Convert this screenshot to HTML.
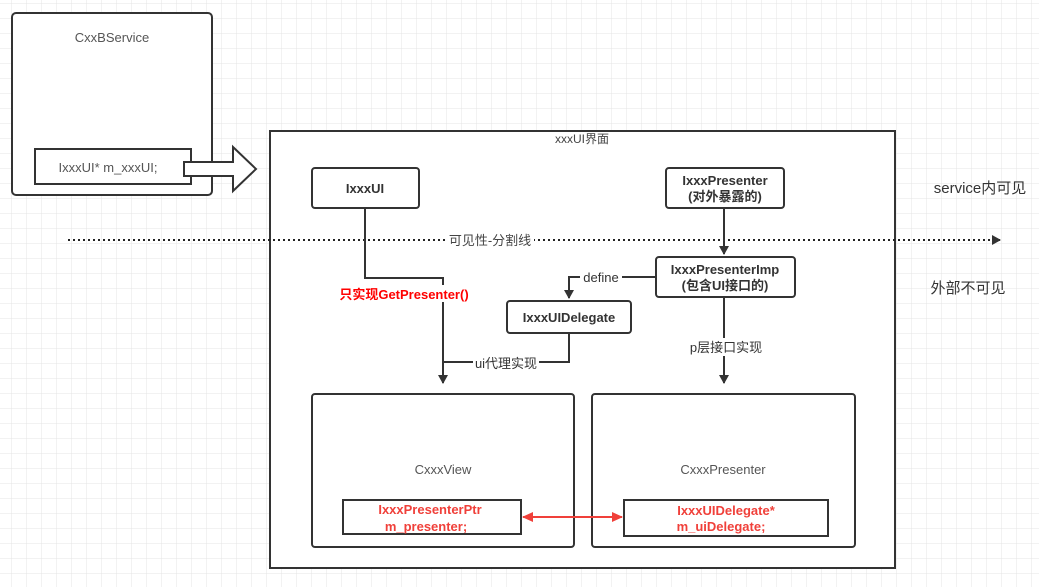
<!DOCTYPE html>
<html><head><meta charset="utf-8"><style>
html,body{margin:0;padding:0;background:#fff;}
svg{display:block;}
text{font-family:"Liberation Sans","Noto Sans CJK SC",sans-serif;}
</style></head><body>
<svg width="1039" height="587" viewBox="0 0 1039 587" xmlns="http://www.w3.org/2000/svg">
<defs>
<pattern id="g" width="15" height="15" patternUnits="userSpaceOnUse" x="12" y="4">
<path d="M15 0V15M0 15H15" stroke="#e4e4e4" stroke-width="1" fill="none"/>
</pattern>
<marker id="a" markerWidth="10" markerHeight="10" refX="8" refY="5" orient="auto" markerUnits="userSpaceOnUse"><path d="M0 0L9 5L0 10Z" fill="#333"/></marker>
<marker id="r" markerWidth="12" markerHeight="10" refX="10" refY="5" orient="auto-start-reverse" markerUnits="userSpaceOnUse"><path d="M0 0L11 5L0 10Z" fill="#f0403a"/></marker>
</defs>
<rect width="1039" height="587" fill="url(#g)"/>
<rect x="12" y="13" width="200" height="182" rx="4" fill="#fff" stroke="#333" stroke-width="2"/>
<text x="112" y="42" font-size="13" fill="#555" text-anchor="middle">CxxBService</text>
<rect x="35" y="149" width="156" height="35" fill="#fff" stroke="#333" stroke-width="2"/>
<text x="108" y="172" font-size="13" fill="#555" text-anchor="middle">IxxxUI* m_xxxUI;</text>
<path d="M184 162H233V147L256 169L233 191V176H184Z" fill="#fff" stroke="#333" stroke-width="2"/>
<rect x="270" y="131" width="625" height="437" fill="#fff" stroke="#333" stroke-width="2"/>
<text x="582" y="143" font-size="12" fill="#444" text-anchor="middle">xxxUI界面</text>
<line x1="68" y1="240" x2="1000" y2="240" stroke="#222" stroke-width="2" stroke-dasharray="2,3" marker-end="url(#a)"/>
<rect x="446" y="231" width="88" height="18" fill="#fff"/>
<text x="490" y="245" font-size="13" fill="#444" text-anchor="middle">可见性-分割线</text>
<text x="980" y="193" font-size="15" fill="#333" text-anchor="middle">service内可见</text>
<text x="968" y="293" font-size="15" fill="#333" text-anchor="middle">外部不可见</text>
<path d="M365 208V278H443V383" fill="none" stroke="#333" stroke-width="2" marker-end="url(#a)"/>
<rect x="312" y="168" width="107" height="40" rx="3" fill="#fff" stroke="#333" stroke-width="2"/>
<text x="365" y="193" font-size="13" font-weight="bold" fill="#333" text-anchor="middle">IxxxUI</text>
<rect x="335" y="285" width="140" height="17" fill="#fff"/>
<text x="404" y="299" font-size="13" font-weight="bold" fill="#f00" text-anchor="middle">只实现GetPresenter()</text>
<line x1="724" y1="208" x2="724" y2="254" stroke="#333" stroke-width="2" marker-end="url(#a)"/>
<rect x="666" y="168" width="118" height="40" rx="3" fill="#fff" stroke="#333" stroke-width="2"/>
<text x="725" y="185" font-size="13" font-weight="bold" fill="#333" text-anchor="middle">IxxxPresenter</text>
<text x="725" y="201" font-size="13" font-weight="bold" fill="#333" text-anchor="middle">(对外暴露的)</text>
<path d="M656 277H569V298" fill="none" stroke="#333" stroke-width="2" marker-end="url(#a)"/>
<rect x="580" y="269" width="42" height="16" fill="#fff"/>
<text x="601" y="282" font-size="13" fill="#333" text-anchor="middle">define</text>
<line x1="724" y1="296" x2="724" y2="383" stroke="#333" stroke-width="2" marker-end="url(#a)"/>
<rect x="656" y="257" width="139" height="40" rx="3" fill="#fff" stroke="#333" stroke-width="2"/>
<text x="725" y="274" font-size="13" font-weight="bold" fill="#333" text-anchor="middle">IxxxPresenterImp</text>
<text x="725" y="290" font-size="13" font-weight="bold" fill="#333" text-anchor="middle">(包含UI接口的)</text>
<rect x="688" y="338" width="76" height="18" fill="#fff"/>
<text x="726" y="352" font-size="13" fill="#333" text-anchor="middle">p层接口实现</text>
<path d="M569 332V362H443" fill="none" stroke="#333" stroke-width="2"/>
<rect x="507" y="301" width="124" height="32" rx="3" fill="#fff" stroke="#333" stroke-width="2"/>
<text x="569" y="322" font-size="13" font-weight="bold" fill="#333" text-anchor="middle">IxxxUIDelegate</text>
<rect x="473" y="355" width="66" height="17" fill="#fff"/>
<text x="506" y="368" font-size="13" fill="#333" text-anchor="middle">ui代理实现</text>
<rect x="312" y="394" width="262" height="153" rx="3" fill="#fff" stroke="#333" stroke-width="2"/>
<text x="443" y="474" font-size="13" fill="#555" text-anchor="middle">CxxxView</text>
<rect x="343" y="500" width="178" height="34" fill="#fff" stroke="#333" stroke-width="2"/>
<text x="430" y="514" font-size="13" font-weight="bold" fill="#f0403a" text-anchor="middle">IxxxPresenterPtr</text>
<text x="426" y="531" font-size="13" font-weight="bold" fill="#f0403a" text-anchor="middle">m_presenter;</text>
<rect x="592" y="394" width="263" height="153" rx="3" fill="#fff" stroke="#333" stroke-width="2"/>
<text x="723" y="474" font-size="13" fill="#555" text-anchor="middle">CxxxPresenter</text>
<rect x="624" y="500" width="204" height="36" fill="#fff" stroke="#333" stroke-width="2"/>
<text x="726" y="515" font-size="13" font-weight="bold" fill="#f0403a" text-anchor="middle">IxxxUIDelegate*</text>
<text x="721" y="531" font-size="13" font-weight="bold" fill="#f0403a" text-anchor="middle">m_uiDelegate;</text>
<line x1="523" y1="517" x2="622" y2="517" stroke="#f0403a" stroke-width="2" marker-start="url(#r)" marker-end="url(#r)"/>
</svg>
</body></html>
